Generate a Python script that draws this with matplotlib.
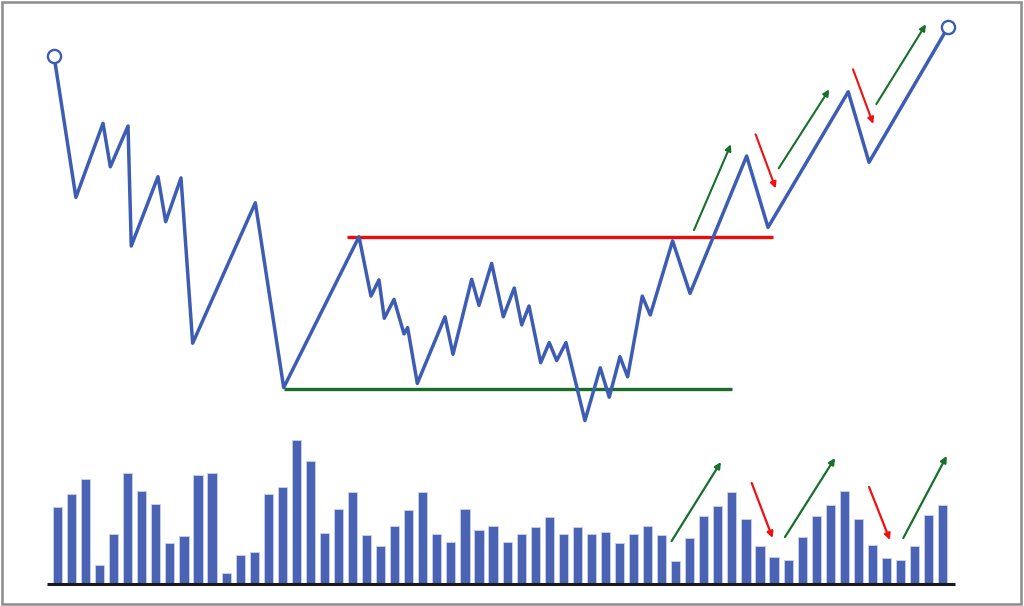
import matplotlib

matplotlib.use("Agg")
import matplotlib.pyplot as plt
from matplotlib.patches import Rectangle

# --------------------------------------------------------------------------- #
#  Data
# --------------------------------------------------------------------------- #
volume = [77, 90, 105, 19, 50, 111, 93, 80, 41, 48, 109, 111, 11, 29, 32, 90,
          97, 144, 123, 51, 75, 92, 49, 38, 58, 74, 92, 50, 42, 75, 54, 58,
          42, 50, 57, 67, 50, 57, 50, 52, 41, 50, 58, 49, 23, 46, 68, 78,
          92, 65, 38, 27, 24, 47, 68, 79, 93, 65, 39, 26, 24, 38, 69, 79]

price_t = [-0.25, 1.31, 3.24, 3.76, 5.02, 5.25, 7.15, 7.70, 8.79, 9.62,
           14.08, 16.10, 21.46, 22.31, 22.88, 23.26, 23.95, 24.66, 24.92,
           25.61, 27.58, 28.15, 29.48, 30.00, 30.90, 31.73, 32.51, 33.04,
           33.56, 34.39, 35.00, 35.53, 36.19, 37.54, 38.63, 39.27, 40.03,
           40.58, 41.62, 42.19, 43.78, 45.02, 49.05, 50.57, 56.28, 57.76,
           63.40]
price = [131.4, 84.2, 108.9, 94.4, 108.0, 68.0, 91.1, 76.1, 90.7, 35.6,
         82.4, 20.8, 71.1, 51.3, 56.7, 43.9, 50.2, 38.7, 40.8, 22.2, 44.4,
         31.9, 56.9, 48.2, 62.2, 44.4, 54.0, 41.7, 48.0, 29.1, 35.8, 29.8,
         35.8, 9.8, 27.4, 17.6, 31.1, 24.4, 51.3, 45.0, 69.7, 52.2, 98.0,
         74.2, 119.4, 95.9, 141.1]

resistance = 71.1
resistance_span = (20.60, 50.90)
support = 20.5
support_span = (16.09, 48.03)

# trend arrows on price: (t0, p0, t1, p1, kind)
price_arrows = [
    (45.30, 73.3, 47.93, 101.9, "up"),
    (49.69, 105.2, 51.12, 87.2, "down"),
    (51.33, 93.9, 54.93, 120.2, "up"),
    (56.62, 126.9, 58.06, 108.7, "down"),
    (58.28, 115.3, 61.81, 141.9, "up"),
]
# trend arrows on volume: (t0, v0, t1, v1, kind)
volume_arrows = [
    (43.71, 43, 47.22, 122, "up"),
    (49.41, 101, 50.90, 46, "down"),
    (51.78, 47, 55.34, 126, "up"),
    (57.76, 97, 59.25, 44, "down"),
    (60.20, 46, 63.29, 128, "up"),
]

BLUE = "#3d5cb4"
BAR = "#4a63b5"
RED = "#ee0a0a"
GREEN = "#1b6b2b"
ARROW_C = {"up": "#17702a", "down": "#f01010"}

XLIM = (-57.5 / 14.05, (1024 - 57.5) / 14.05)

fig = plt.figure(figsize=(10.24, 6.06), dpi=100)
fig.patch.set_facecolor("white")

ax_v = fig.add_axes([0, 0, 1, 1])
ax_p = fig.add_axes([0, 0, 1, 1])
for ax in (ax_v, ax_p):
    ax.set_xlim(*XLIM)
    ax.axis("off")
    ax.patch.set_alpha(0)
ax_v.set_ylim(-22, 584)
ax_p.set_ylim(-52, 150)

# volume bars
ax_v.bar(range(len(volume)), volume, width=0.65, color=BAR,
         edgecolor="#c9d1ee", linewidth=0.6, zorder=2)
ax_v.hlines(0, -0.75, 63.88, color="#1a1a1a", linewidth=2.2, zorder=3)

# support / resistance
ax_p.hlines(resistance, *resistance_span, color=RED, linewidth=2.4, zorder=2)
ax_p.hlines(support, *support_span, color=GREEN, linewidth=2.4, zorder=2)

# price path
ax_p.plot(price_t, price, color=BLUE, linewidth=2.5, solid_joinstyle="round",
          solid_capstyle="round", zorder=3)
ax_p.plot([price_t[0], price_t[-1]], [price[0], price[-1]], "o",
          markersize=9.5, markerfacecolor="white", markeredgecolor=BLUE,
          markeredgewidth=1.7, zorder=4)


def _arrows(ax, items, lw):
    for t0, y0, t1, y1, kind in items:
        ax.annotate("", xy=(t1, y1), xytext=(t0, y0),
                    arrowprops=dict(arrowstyle="-|>", color=ARROW_C[kind],
                                    lw=lw, mutation_scale=9,
                                    shrinkA=0, shrinkB=0), zorder=5)


_arrows(ax_p, price_arrows, 1.5)
_arrows(ax_v, volume_arrows, 1.6)

# frame round the picture
fig.add_artist(Rectangle((0.0015, 0.0025), 0.9955, 0.994,
                         transform=fig.transFigure, fill=False,
                         edgecolor="#8c8c8c", linewidth=1.8))

fig.savefig("out.png", dpi=100, facecolor="white")
